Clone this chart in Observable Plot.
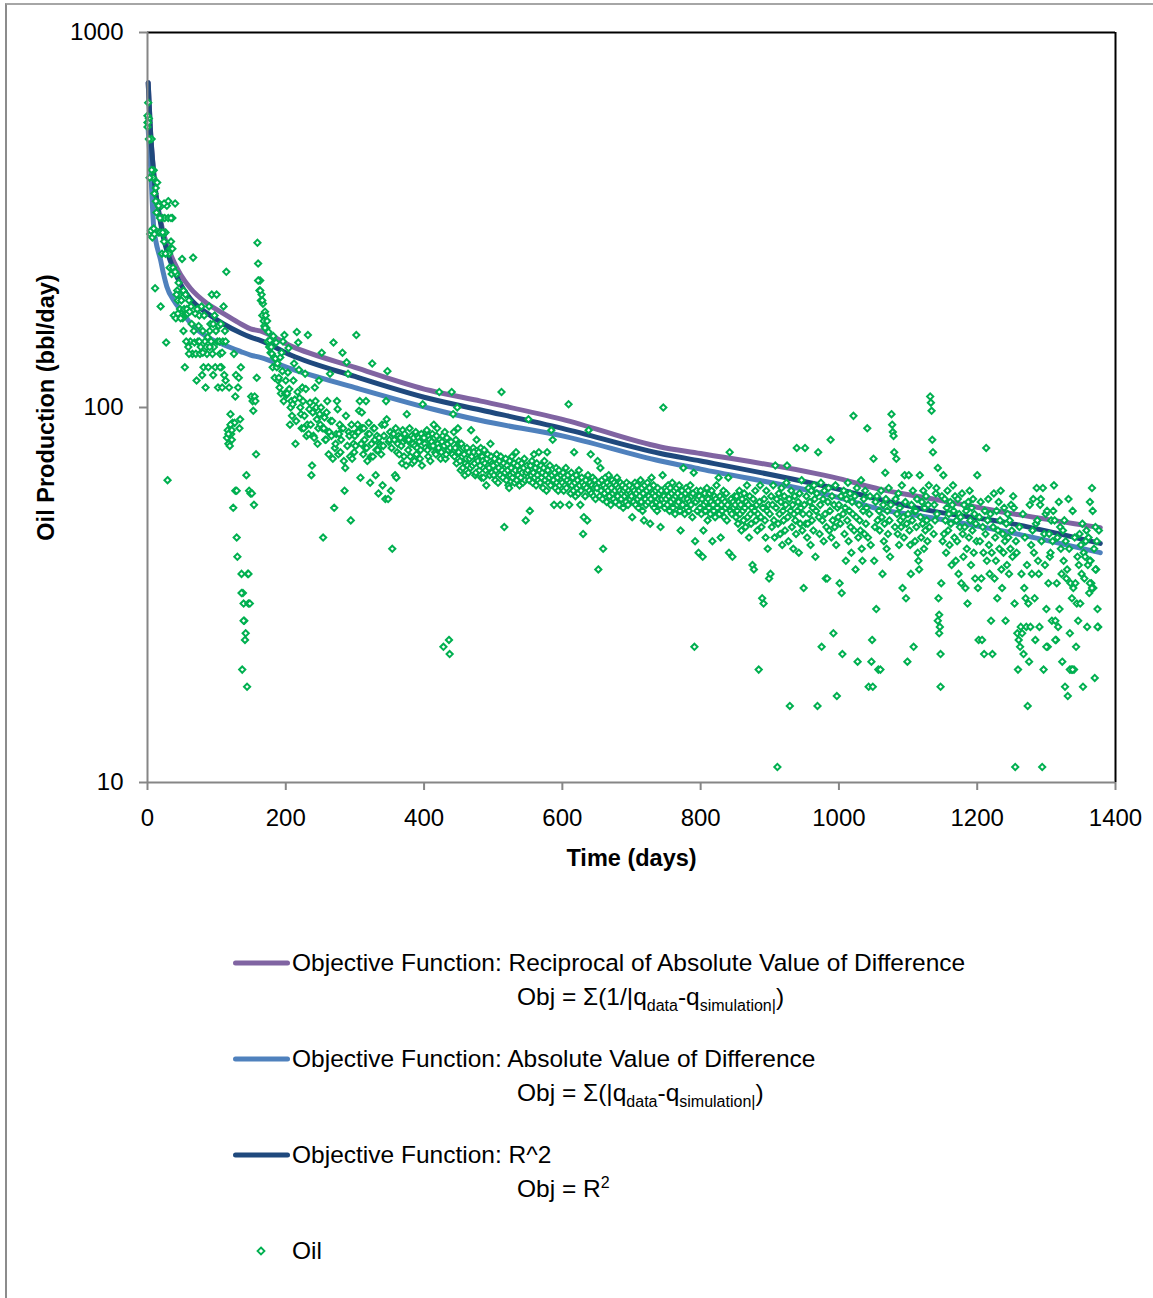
<!DOCTYPE html>
<html><head><meta charset="utf-8">
<script src="https://cdn.jsdelivr.net/npm/d3@7"></script>
<script src="https://cdn.jsdelivr.net/npm/@observablehq/plot@0.6"></script>
<style>
body{margin:0;background:#fff;font-family:"Liberation Sans",Arial,sans-serif;}
#wrap{position:relative;width:1153px;height:1298px;overflow:hidden;background:#fff;}
#chart{position:absolute;left:0;top:0;}
#border{position:absolute;left:5px;top:3px;width:1300px;height:1400px;border-left:2px solid #8c8c8c;border-top:2px solid #a6a6a6;pointer-events:none;}
.lg{position:absolute;font-size:24.5px;line-height:1;white-space:nowrap;color:#000;transform:translateY(-50%);}
.sw{position:absolute;height:5px;border-radius:3px;transform:translateY(-50%);}
.lg sub{font-size:16px;vertical-align:-6px;line-height:0;}
.lg sup{font-size:16px;vertical-align:9px;line-height:0;}
</style></head>
<body><div id="wrap"><div id="chart"></div><div id="legend"></div><div id="border"></div></div>
<script>
const xTicks = [0, 200, 400, 600, 800, 1000, 1200, 1400];
const yTicks = [10, 100, 1000];

// Model curves (days, bbl/day)
const modelDays     = [1, 4, 9, 12, 19, 23, 28, 38, 48, 62, 87, 110, 135, 149, 163, 207, 300, 409, 482, 600, 742, 800, 1000, 1060, 1132, 1248, 1378];
const objReciprocal = [735, 560, 422, 374, 315, 292, 272, 245, 226, 208, 189, 178, 167, 162, 160, 146, 128, 111, 104, 93, 78.5, 75.4, 64.6, 60.5, 57.2, 52.2, 47.8];
const objAbsolute   = [550, 455, 302, 278, 247, 228, 210, 193, 182, 168, 154, 147, 141, 138, 136, 127, 113, 99.4, 92.3, 84, 72, 68.5, 57.5, 53.5, 50.9, 46.4, 41];
const objR2         = [735, 560, 420, 372, 310, 284, 262, 233, 213, 195, 178, 167, 158, 154, 151, 138, 121, 105.5, 98.5, 88, 75.4, 72, 60.5, 56.8, 53.1, 49.1, 43.4];

const seriesNames = [
  "Objective Function: Reciprocal of Absolute Value of Difference",
  "Objective Function: Absolute Value of Difference",
  "Objective Function: R^2"
];
const seriesFormulas = [
  "Obj = &Sigma;(1/|q<sub>data</sub>-q<sub>simulation|</sub>)",
  "Obj = &Sigma;(|q<sub>data</sub>-q<sub>simulation|</sub>)",
  "Obj = R<sup>2</sup>"
];
const seriesColors = ["#8064A2", "#4F81BD", "#1F497D"];
const oilLabel = "Oil";
const oilColor = "#00B050";

// Daily oil rate (bbl/day), one value per day from the chunk's first day
const oilRate_0 = [
575,650,590,518,290,296,520,284,410,429,372,208,385,331,398,350,293,350,293,186,345,257,320,290,277,320,293,149,345,64,320,257,236,265,277,227,320,236,176,230,350,173,227,205,193,215,200,183,178,193,
249,173,205,183,128,200,178,183,178,145,193,180,150,186,167,139,251,160,149,178,139,118,183,150,165,176,139,145,186,122,160,128,176,150,113,145,139,154,128,186,160,167,150,200,139,122,145,176,128,160,
200,150,113,165,150,139,167,128,140,150,186,122,160,118,230,83,87,80,113,79,96,85,82,91,54,139,91,107,122,45,40,113,120,88,93,128,36,20,32,30,27,24,25,66,18,36,30,60,30,59,
107,59,104,98,55,107,104,75,120,275,242,218,205,218,193,200,176,189,170,165,180,176,163,170,150,159,145,151,140,145,139,128,155,136,120,135,149,128,131,118,120,113,136,109,140,125,150,104,156,109
];
const oilRate_200 = [
118,108,109,124,144,112,90,100,104,95,102,118,131,105,80,92,159,110,149,126,106,100,96,88,113,104,88,95,123,112,84,90,156,85,99,103,90,66,70,97,84,83,113,104,100,93,80,88,118,96,
90,100,140,88,45,88,94,82,82,97,104,86,75,86,123,92,84,92,73,149,54,78,80,85,104,99,75,85,90,76,82,88,140,88,72,60,69,95,132,79,123,86,84,74,50,90,73,85,80,76,
84,79,156,86,90,86,98,104,65,80,97,88,75,88,82,78,104,78,72,85,91,85,63,74,80,131,74,88,88,82,66,77,84,77,59,83,80,79,75,90,62,79,84,90,57,104,93,125,57,81,
82,86,60,78,42,85,85,82,66,88,65,76,80,84,75,83,83,79,71,87,81,74,85,82,70,96,82,77,82,88,74,80,84,71,80,83,72,79,86,75,78,84,83,81,73,77,85,70,102,83
];
const oilRate_400 = [
83,80,78,86,87,77,74,84,82,72,79,81,85,79,90,83,76,75,84,88,80,78,110,82,73,76,81,84,23,79,86,73,75,83,80,77,24,22,78,81,110,75,96,86,74,78,82,71,100,88,
76,80,72,68,80,74,69,78,75,66,71,73,78,70,67,76,73,69,87,74,70,78,76,71,66,67,82,73,72,76,68,70,78,65,74,72,65,77,71,68,62,73,75,70,69,66,80,74,67,71,
70,66,73,64,68,75,71,63,69,72,66,74,110,68,65,71,48,67,73,64,70,68,62,61,72,66,69,74,65,67,71,63,68,76,64,70,66,72,62,68,65,71,67,63,69,73,64,50,67,70,
68,93,64,53,70,66,72,63,67,75,65,69,62,71,66,64,76,68,63,70,65,67,61,69,72,64,66,60,76,68,63,65,70,62,87,66,82,64,55,67,61,69,63,65,60,68,62,55,66,64
];
const oilRate_600 = [
63,67,60,65,62,69,61,64,66,102,55,63,59,67,62,65,60,76,63,58,66,61,64,59,68,62,55,60,65,63,46,51,62,58,64,61,50,66,87,60,63,75,59,62,65,58,61,64,57,62,
61,72,37,63,58,69,60,64,57,42,62,59,65,61,56,63,60,66,58,62,55,61,64,59,57,63,60,56,62,65,58,61,55,60,63,57,59,62,54,60,58,61,56,63,59,55,60,62,57,59,
58,51,61,56,60,63,55,59,62,57,54,60,58,64,56,61,53,59,50,62,57,55,60,63,56,58,61,49,57,65,55,59,62,54,58,60,56,53,61,57,59,55,48,60,57,66,100,58,54,61,
57,60,55,62,58,53,61,56,59,63,54,57,60,52,58,61,55,59,56,62,53,47,58,60,55,69,57,52,59,61,54,57,60,53,56,62,55,58,51,59,67,23,44,56,60,53,57,41,58,54
];
const oilRate_800 = [
60,52,57,40,47,55,59,53,56,61,50,57,54,59,52,56,60,44,55,53,58,51,57,62,54,56,65,52,58,45,55,53,57,60,51,56,54,59,50,55,65,41,76,53,57,52,40,56,54,58,
55,51,58,53,49,56,60,52,55,47,57,53,50,59,54,48,56,62,51,55,45,58,52,49,54,38,57,37,53,60,50,55,47,52,20,56,62,51,48,31,54,30,57,50,45,60,53,42,55,35,
52,36,58,48,55,62,50,45,70,54,57,11,49,59,52,46,56,61,43,53,50,58,47,55,63,70,51,44,57,16,53,60,48,55,42,52,58,50,46,78,53,56,41,59,49,54,64,47,52,33,
55,78,49,58,45,49,61,52,56,43,60,50,54,47,62,57,40,53,59,16,76,51,46,55,63,23,50,57,44,60,52,35,48,35,56,61,47,53,82,45,58,50,25,55,48,62,43,17,54,51
];
const oilRate_1000 = [
55,34,49,58,32,22,52,60,46,54,39,57,50,63,44,53,59,48,41,56,52,95,47,58,37,51,61,21,45,55,50,47,64,42,39,53,57,46,60,49,54,88,45,18,52,58,43,21,24,18,
73,39,48,56,29,58,50,20,53,47,20,60,51,36,55,44,49,67,57,42,53,46,61,50,40,55,96,90,86,84,76,48,57,73,52,46,59,43,54,50,48,62,33,51,45,66,56,31,49,21,
52,66,47,43,36,55,50,60,23,53,44,53,48,57,41,39,37,66,51,45,56,49,60,42,54,47,58,50,44,55,62,48,107,103,98,82,76,46,55,50,59,61,52,69,31,28,26,22,34,58,
44,66,46,57,50,41,54,60,47,52,43,56,49,38,55,62,53,45,58,39,50,44,57,36,52,48,51,34,59,46,40,55,48,33,53,42,30,56,45,60,50,38,54,47,57,41,52,35,49,44
];
const oilRate_1200 = [
66,33,24,51,44,56,35,24,48,41,22,53,46,78,39,50,57,43,36,52,27,41,22,48,59,35,45,39,53,31,47,56,42,50,60,37,33,46,41,54,44,27,49,38,52,45,36,50,42,55,
47,40,58,54,30,11,44,41,25,20,24,48,23,26,36,25,52,22,33,45,31,26,38,16,30,21,55,26,43,36,47,57,41,31,24,49,61,50,39,36,26,55,57,44,11,61,20,46,38,52,
29,53,23,34,46,40,41,50,27,44,53,62,50,27,24,34,45,26,56,29,48,42,36,21,47,39,50,18,44,35,37,17,57,42,25,34,20,31,53,33,20,45,34,23,30,40,27,38,46,30,
43,36,49,18,41,35,40,44,47,26,38,45,32,56,39,34,61,53,33,42,19,48,37,44,29,26,47
];
// Additional readings where several points share a day
const oilExtraDay  = [0, 0, 1, 2, 3, 6, 9, 10, 12, 16, 18, 22, 24, 26, 30, 34, 36, 40, 42, 44, 48, 52, 56, 60, 75, 80, 90, 95, 105, 108, 113, 117, 120, 122, 127, 129, 136, 139, 146, 160, 163, 166, 170, 1143, 1145, 1147, 1300, 1313, 1334, 1338, 1363, 1363, 1366, 1371, 1374];
const oilExtraRate = [560, 600, 575, 520, 410, 430, 300, 290, 355, 345, 320, 293, 350, 257, 355, 320, 265, 230, 200, 178, 173, 160, 150, 139, 150, 140, 145, 167, 128, 113, 150, 85, 90, 87, 60, 60, 32, 27, 36, 218, 205, 193, 163, 27, 25, 18, 23, 24, 20, 20, 39, 34, 33, 37, 26];

const oilChunks = [[0, oilRate_0], [200, oilRate_200], [400, oilRate_400], [600, oilRate_600], [800, oilRate_800], [1000, oilRate_1000], [1200, oilRate_1200]];
const oil = [];
for (const [start, vals] of oilChunks) vals.forEach((v, i) => oil.push({day: start + i, rate: v}));
oilExtraDay.forEach((d, i) => oil.push({day: d, rate: oilExtraRate[i]}));

const model = [];
[objReciprocal, objAbsolute, objR2].forEach((arr, s) =>
  arr.forEach((v, i) => model.push({series: seriesNames[s], day: modelDays[i], rate: v})));

const AX = "#868686";
const plot = Plot.plot({
  width: 1153, height: 882,
  marginLeft: 147, marginRight: 38, marginTop: 32, marginBottom: 100,
  style: {fontFamily: '"Liberation Sans", Arial, sans-serif', fontSize: "24px", color: "#000", background: "transparent", overflow: "visible"},
  x: {domain: [0, 1400]},
  y: {type: "log", domain: [10, 1000]},
  color: {domain: seriesNames, range: seriesColors},
  marks: [
    Plot.ruleY([1000], {stroke: "#000", strokeWidth: 2}),
    Plot.ruleX([1400], {stroke: "#000", strokeWidth: 2}),
    Plot.line(model, {x: "day", y: "rate", z: "series", stroke: "series", strokeWidth: 5, curve: "monotone-x", strokeLinecap: "round", strokeLinejoin: "round"}),
    Plot.dot(oil, {x: "day", y: "rate", symbol: "diamond2", r: 2.8, stroke: oilColor, strokeWidth: 2, fill: "white"}),
    Plot.ruleX([0], {stroke: AX, strokeWidth: 2}),
    Plot.ruleY([10], {stroke: AX, strokeWidth: 2}),
    Plot.axisX({ticks: xTicks, tickFormat: d => String(d), tickSize: 8, tickPadding: 18, stroke: AX, strokeWidth: 2, fill: "#000", fontSize: 24, label: null}),
    Plot.axisY({ticks: yTicks, tickFormat: d => String(d), tickSize: 8, tickPadding: 16, stroke: AX, strokeWidth: 2, fill: "#000", fontSize: 24, label: null}),
    Plot.text(["Time (days)"], {frameAnchor: "bottom", dy: 83, fontWeight: "bold", fontSize: 23.5, fill: "#000", textAnchor: "middle"}),
    Plot.text(["Oil Production (bbl/day)"], {frameAnchor: "left", dx: -101, rotate: -90, fontWeight: "bold", fontSize: 23.5, fill: "#000", textAnchor: "middle"})
  ]
});
document.getElementById("chart").append(plot);

// Legend below the chart
const lg = document.getElementById("legend");
const rowY0 = 963, rowStep = 96;
seriesNames.forEach((name, i) => {
  const y = rowY0 + i * rowStep;
  const sw = document.createElement("div");
  sw.className = "sw";
  sw.style.cssText = `left:233px;width:57px;top:${y}px;background:${seriesColors[i]};`;
  lg.append(sw);
  const t = document.createElement("div");
  t.className = "lg"; t.style.left = "292px"; t.style.top = y + "px"; t.textContent = name;
  lg.append(t);
  const f = document.createElement("div");
  f.className = "lg"; f.style.left = "517px"; f.style.top = (y + 34) + "px"; f.innerHTML = seriesFormulas[i];
  lg.append(f);
});
const oy = rowY0 + 3 * rowStep;
const ns = "http://www.w3.org/2000/svg";
const mk = document.createElementNS(ns, "svg");
mk.setAttribute("width", 12); mk.setAttribute("height", 12);
mk.style.cssText = `position:absolute;left:255px;top:${oy - 6}px;`;
const p = document.createElementNS(ns, "path");
p.setAttribute("d", "M6,2.5L9.5,6L6,9.5L2.5,6Z");
p.setAttribute("fill", "white"); p.setAttribute("stroke", oilColor); p.setAttribute("stroke-width", "1.8");
mk.append(p); lg.append(mk);
const ot = document.createElement("div");
ot.className = "lg"; ot.style.left = "292px"; ot.style.top = oy + "px"; ot.textContent = oilLabel;
lg.append(ot);
</script>
</body></html>
